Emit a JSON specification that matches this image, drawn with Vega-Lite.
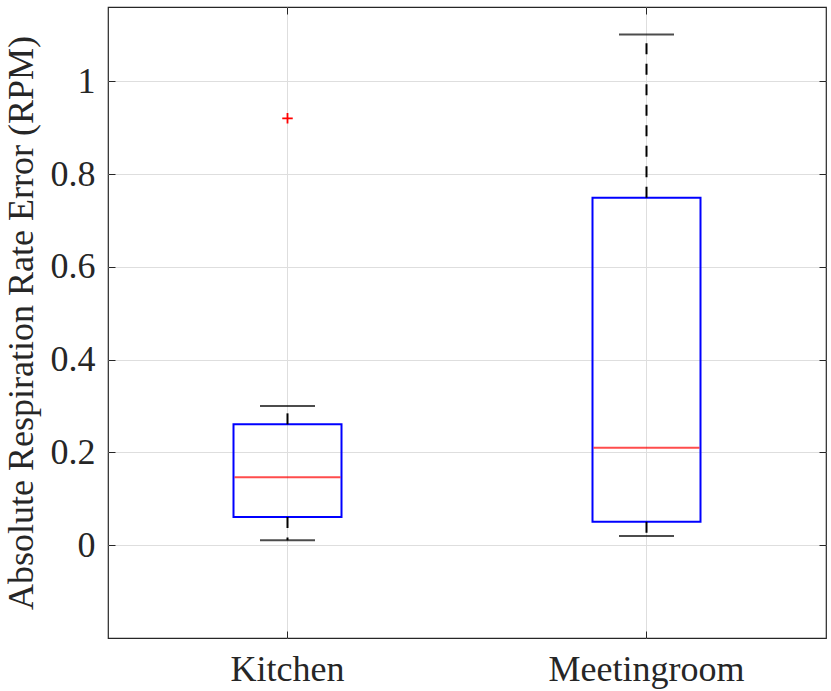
{
  "$schema": "https://vega.github.io/schema/vega-lite/v6.json",
  "autosize": "none",
  "width": 718,
  "height": 631,
  "padding": {"left": 108, "top": 7, "right": 5, "bottom": 53},
  "background": "white",
  "datasets": {
    "stats": [
      {"room": "Kitchen", "lower": 0.0105, "q1": 0.0608, "median": 0.1464, "q3": 0.2605, "upper": 0.300},
      {"room": "Meetingroom", "lower": 0.020, "q1": 0.0505, "median": 0.210, "q3": 0.749, "upper": 1.1007}
    ],
    "outliers": [
      {"room": "Kitchen", "value": 0.92}
    ]
  },
  "data": {"name": "stats"},
  "resolve": {"axis": {"x": "independent", "y": "independent"}},
  "layer": [
    {
      "mark": {"type": "bar", "fill": "transparent", "stroke": "#0000ff", "strokeWidth": 2, "size": 108},
      "encoding": {
        "x": {
          "field": "room",
          "type": "nominal",
          "sort": null,
          "scale": {"type": "band", "paddingInner": 0, "paddingOuter": 0},
          "axis": {"orient": "bottom", "title": null, "labelAngle": 0, "tickSize": -7, "labelPadding": 21, "labelLimit": 0, "grid": true}
        },
        "y": {
          "field": "q1",
          "type": "quantitative",
          "scale": {"domain": [-0.2, 1.16], "zero": false, "nice": false},
          "axis": {
            "orient": "left",
            "title": "Absolute Respiration Rate Error (RPM)",
            "values": [0, 0.2, 0.4, 0.6, 0.8, 1],
            "format": "~g",
            "tickSize": -7,
            "labelPadding": 20,
            "titlePadding": 10,
            "grid": true
          }
        },
        "y2": {"field": "q3"}
      }
    },
    {
      "mark": {"type": "rule", "color": "black", "strokeWidth": 2, "strokeDash": [11, 9.5]},
      "encoding": {
        "x": {
          "field": "room",
          "type": "nominal",
          "sort": null,
          "axis": {"orient": "top", "title": null, "labels": false, "tickSize": -7, "grid": false}
        },
        "y": {
          "field": "q3",
          "type": "quantitative",
          "axis": {"orient": "right", "title": null, "labels": false, "values": [0, 0.2, 0.4, 0.6, 0.8, 1], "tickSize": -7, "grid": false}
        },
        "y2": {"field": "upper"}
      }
    },
    {
      "mark": {"type": "rule", "color": "black", "strokeWidth": 2, "strokeDash": [11, 9.5]},
      "encoding": {
        "x": {"field": "room", "type": "nominal", "sort": null, "axis": null},
        "y": {"field": "q1", "type": "quantitative", "axis": null},
        "y2": {"field": "lower"}
      }
    },
    {
      "mark": {"type": "tick", "color": "black", "thickness": 2, "size": 55},
      "encoding": {
        "x": {"field": "room", "type": "nominal", "sort": null, "axis": null},
        "y": {"field": "upper", "type": "quantitative", "axis": null}
      }
    },
    {
      "mark": {"type": "tick", "color": "black", "thickness": 2, "size": 55},
      "encoding": {
        "x": {"field": "room", "type": "nominal", "sort": null, "axis": null},
        "y": {"field": "lower", "type": "quantitative", "axis": null}
      }
    },
    {
      "mark": {"type": "tick", "color": "#ff0000", "thickness": 2, "size": 106},
      "encoding": {
        "x": {"field": "room", "type": "nominal", "sort": null, "axis": null},
        "y": {"field": "median", "type": "quantitative", "axis": null}
      }
    },
    {
      "data": {"name": "outliers"},
      "mark": {"type": "point", "shape": "M-1,0L1,0M0,-1L0,1", "filled": false, "stroke": "#ff0000", "strokeWidth": 1.8, "size": 110, "opacity": 1},
      "encoding": {
        "x": {"field": "room", "type": "nominal", "sort": null, "axis": null},
        "y": {"field": "value", "type": "quantitative", "axis": null}
      }
    }
  ],
  "config": {
    "view": {"stroke": "#262626", "strokeWidth": 1.2},
    "axis": {
      "domain": false,
      "tickColor": "#262626",
      "tickWidth": 1,
      "gridColor": "#dedede",
      "gridWidth": 1,
      "labelFont": "Liberation Serif",
      "labelFontSize": 36,
      "labelColor": "#262626",
      "titleFont": "Liberation Serif",
      "titleFontSize": 36,
      "titleFontWeight": "normal",
      "titleColor": "#262626"
    }
  }
}
